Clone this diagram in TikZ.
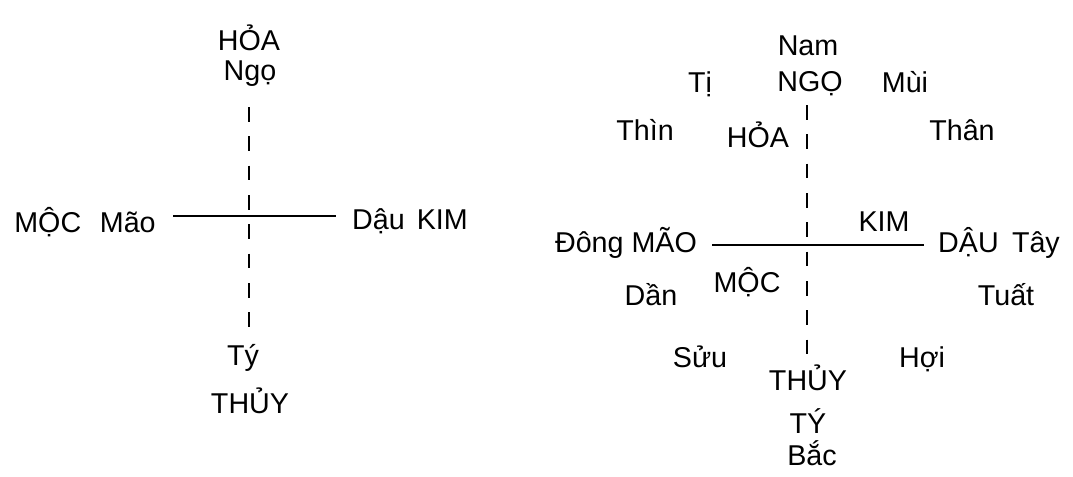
\documentclass[tikz,border=0pt]{standalone}
\usepackage{fontspec}
\setmainfont{Liberation Sans}
\begin{document}
\begin{tikzpicture}[x=0.75pt,y=-0.75pt,
  lbl/.style={anchor=base, inner sep=0pt, font=\fontsize{21.5}{25}\selectfont},
  solidaxis/.style={line width=1.6pt},
  dashaxis/.style={line width=1.6pt, dash pattern=on 11pt off 11pt}]
\useasboundingbox (0,0) rectangle (1073,476);
% ---------- left diagram ----------
\node[lbl] (lhoa)  at (249,50)  {HỎA};
\node[lbl] (lngo)  at (250,80)  {Ngọ};
\node[lbl] (lmoc)  at (85,232)  {MỘC\hspace{14pt}Mão};
\node[lbl] (lkim)  at (410,229) {Dậu\hspace{9pt}KIM};
\node[lbl] (lty)   at (243,365) {Tý};
\node[lbl] (lthuy) at (250,413) {THỦY};
\coordinate (lN) at (249,107);
\coordinate (lS) at (249,332);
\coordinate (lW) at (173,216);
\coordinate (lE) at (336,216);
\draw[solidaxis] (lW) -- (lE);
\draw[dashaxis] (lN) -- (lS);
% ---------- right diagram ----------
\node[lbl] (rnam)  at (808,55)  {Nam};
\node[lbl] (rngo)  at (810,91)  {NGỌ};
\node[lbl] (rti)   at (700,92)  {Tị};
\node[lbl] (rmui)  at (905,92)  {Mùi};
\node[lbl] (rthin) at (645,140) {Thìn};
\node[lbl] (rhoa)  at (758,147) {HỎA};
\node[lbl] (rthan) at (962,140) {Thân};
\node[lbl] (rkim)  at (884,231) {KIM};
\node[lbl] (rdong) at (626,252) {Đông MÃO};
\node[lbl] (rtay)  at (999,252) {DẬU\hspace{10pt}Tây};
\node[lbl] (rmoc)  at (747,292) {MỘC};
\node[lbl] (rdan)  at (651,305) {Dần};
\node[lbl] (rtuat) at (1006,305) {Tuất};
\node[lbl] (rsuu)  at (700,367) {Sửu};
\node[lbl] (rhoi)  at (922,367) {Hợi};
\node[lbl] (rthuy) at (808,390) {THỦY};
\node[lbl] (rty)   at (808,433) {TÝ};
\node[lbl] (rbac)  at (812,465) {Bắc};
\coordinate (rN) at (807,105);
\coordinate (rS) at (807,360);
\coordinate (rW) at (712,245);
\coordinate (rE) at (924,245);
\draw[solidaxis] (rW) -- (rE);
\draw[dashaxis] (rN) -- (rS);
\end{tikzpicture}
\end{document}
